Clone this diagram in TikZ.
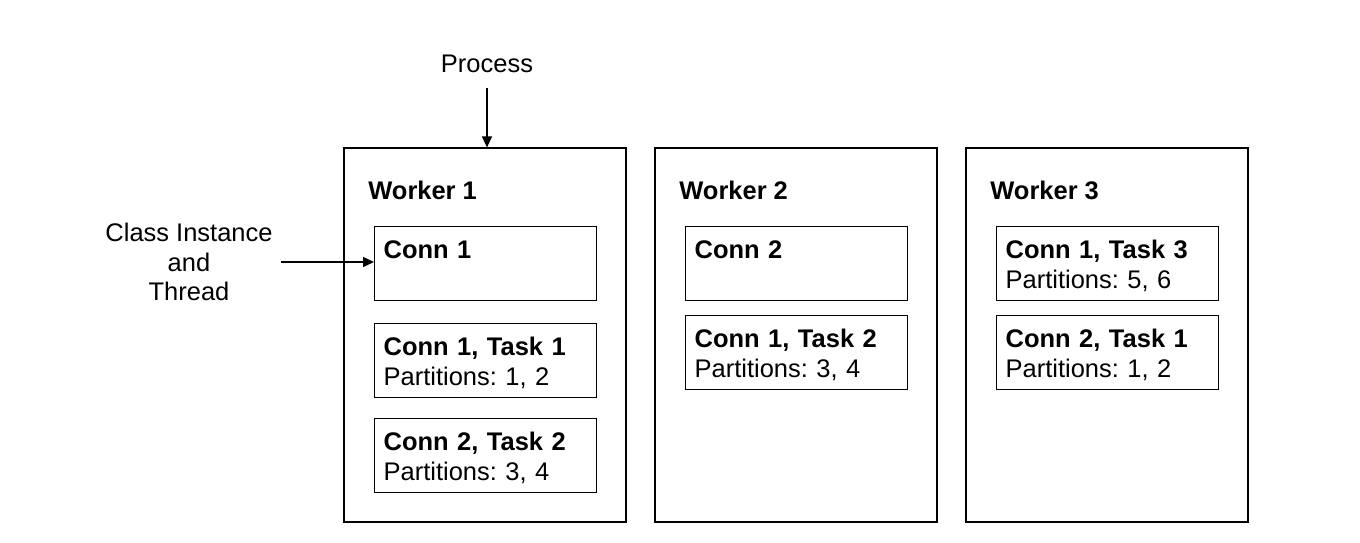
\documentclass[tikz,border=0pt]{standalone}
\usepackage{fontspec}
\setmainfont{Liberation Sans}
\usetikzlibrary{arrows.meta}
\tikzset{
  worker/.style={draw, line width=0.75pt, minimum width=5.64cm, minimum height=7.48cm, inner sep=0},
  taskbox/.style={draw, line width=0.75pt, anchor=north west, align=left,
    text width=4.08cm, inner xsep=0.18cm, inner ysep=0,
    text height=0.64cm, text depth=0.84cm},
  wtitle/.style={font=\bfseries, anchor=base west, inner sep=0},
  arr/.style={-{Triangle[length=0.22cm,width=0.2cm]}, line width=0.75pt}
}
\begin{document}
\frenchspacing
\fontsize{14.5}{17}\selectfont
\begin{tikzpicture}[x=0.02cm, y=-0.02cm]
                    \useasboundingbox (0,0) rectangle (1360,542);
                    % workers
                    \node[worker] (w1) at (485,335) {};
                    \node[worker] (w2) at (796,335) {};
                    \node[worker] (w3) at (1107,335) {};
                    \node[wtitle] (w1t) at (368,199) {Worker 1};
                    \node[wtitle] (w2t) at (679,199) {Worker 2};
                    \node[wtitle] (w3t) at (990,199) {Worker 3};
                    % worker 1
                    \node[taskbox] (w1c) at (374,226) {\textbf{Conn 1}};
                    \node[taskbox] (w1a) at (374,323) {\textbf{Conn 1, Task 1}\\Partitions: 1, 2};
                    \node[taskbox] (w1b) at (374,418) {\textbf{Conn 2, Task 2}\\Partitions: 3, 4};
                    % worker 2
                    \node[taskbox] (w2c) at (685,226) {\textbf{Conn 2}};
                    \node[taskbox] (w2a) at (685,315) {\textbf{Conn 1, Task 2}\\Partitions: 3, 4};
                    % worker 3
                    \node[taskbox] (w3a) at (996,226) {\textbf{Conn 1, Task 3}\\Partitions: 5, 6};
                    \node[taskbox] (w3b) at (996,315) {\textbf{Conn 2, Task 1}\\Partitions: 1, 2};
                    % labels
                    \node[anchor=base, inner ysep=0.3cm] (proc) at (487,72) {Process};
                    \node[align=center] (cls) at (189,262) {Class Instance\\and\\Thread};
                    \draw[arr] (proc.south) -- (proc.south |- w1.north);
                    \draw[arr] (cls.east) -- (cls.east -| w1c.west);
                \end{tikzpicture}
\end{document}
